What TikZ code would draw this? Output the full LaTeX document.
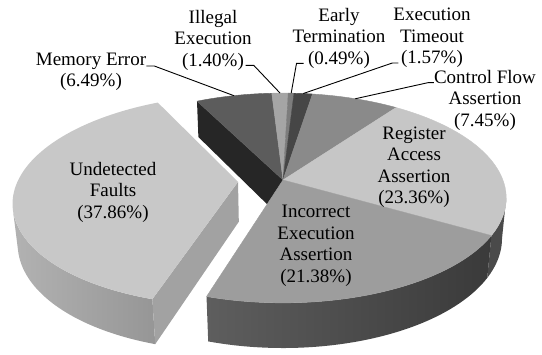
\documentclass[tikz,border=0pt]{standalone}
\usepackage{fontspec}
\setmainfont{Liberation Serif}
\definecolor{mem_top}{RGB}{92,92,92}
\definecolor{mem_cut}{RGB}{38,38,38}
\definecolor{ill_top}{RGB}{165,165,165}
\definecolor{early_top}{RGB}{125,125,125}
\definecolor{tmo_top}{RGB}{70,70,70}
\definecolor{cf_top}{RGB}{138,138,138}
\definecolor{reg_top}{RGB}{198,198,198}
\definecolor{reg_side}{RGB}{74,74,74}
\definecolor{inc_top}{RGB}{157,157,157}
\definecolor{inc_side_l}{RGB}{94,94,94}
\definecolor{inc_side_r}{RGB}{58,58,58}
\definecolor{ud_top}{RGB}{200,200,200}
\definecolor{ud_side_l}{RGB}{178,178,178}
\definecolor{ud_side_r}{RGB}{150,150,150}
\definecolor{ud_cut}{RGB}{162,162,162}

\begin{document}
\begin{tikzpicture}[x=1bp,y=-1bp,
  declare function={
    dep(\X,\Y,\Z)=5.17+0.886*\Y-0.463*\Z;
    pjx(\X,\Y,\Z)=283+1137*\X/dep(\X,\Y,\Z);
    pjy(\X,\Y,\Z)=180-1137*(0.463*\Y+0.886*\Z)/dep(\X,\Y,\Z);
    rimx(\t,\Z)=pjx(cos(\t),sin(\t),\Z);
    rimy(\t,\Z)=pjy(cos(\t),sin(\t),\Z);
    udx(\t,\Z)=pjx(cos(\t)-0.204,sin(\t)-0.018,\Z);
    udy(\t,\Z)=pjy(cos(\t)-0.204,sin(\t)-0.018,\Z);
  }]
    \tikzstyle{lbl}=[align=center,inner sep=0pt,text=black,font=\fontsize{19bp}{21.5bp}\selectfont]
    \tikzstyle{lead}=[draw=black,line width=0.9bp]
    \tikzstyle{slice}=[line width=0.4bp,line join=round]
    \useasboundingbox (0,0) rectangle (542,354);

    \coordinate (O)  at ({pjx(0,0,0)},{pjy(0,0,0)});
    \coordinate (Ob) at ({pjx(0,0,-0.208)},{pjy(0,0,-0.208)});
    \coordinate (U)  at ({pjx(-0.204,-0.018,0)},{pjy(-0.204,-0.018,0)});
    \coordinate (Ub) at ({pjx(-0.204,-0.018,-0.208)},{pjy(-0.204,-0.018,-0.208)});

    % main pie: side walls
    \fill[reg_side] plot[domain=-9.8:-29.936,samples=20,variable=\t] ({rimx(\t,0)},{rimy(\t,0)})
      -- plot[domain=-29.936:-9.8,samples=20,variable=\t] ({rimx(\t,-0.208)},{rimy(\t,-0.208)}) -- cycle;
    \shade[left color=inc_side_l,right color=inc_side_r]
      plot[domain=-29.936:-106.904,samples=50,variable=\t] ({rimx(\t,0)},{rimy(\t,0)})
      -- plot[domain=-106.904:-29.936,samples=50,variable=\t] ({rimx(\t,-0.208)},{rimy(\t,-0.208)}) -- cycle;
    % cut face left open by the exploded slice
    \fill[mem_cut] (O) -- ({rimx(116.8,0)},{rimy(116.8,0)}) -- ({rimx(116.8,-0.208)},{rimy(116.8,-0.208)}) -- (Ob) -- cycle;

    % main pie: top faces
    \foreach \a/\b/\c in {116.8/93.436/mem_top, 93.436/88.396/ill_top, 88.396/86.632/early_top,
        86.632/80.98/tmo_top, 80.98/54.16/cf_top, 54.16/-29.936/reg_top, -29.936/-106.904/inc_top}
      \filldraw[slice,fill=\c,draw=\c] (O) -- plot[domain=\a:\b,samples=40,variable=\t] ({rimx(\t,0)},{rimy(\t,0)}) -- cycle;

    % exploded slice
    \shade[left color=ud_side_l,right color=ud_side_r]
      plot[domain=-164.8:-106.904,samples=40,variable=\t] ({udx(\t,0)},{udy(\t,0)})
      -- plot[domain=-106.904:-164.8,samples=40,variable=\t] ({udx(\t,-0.208)},{udy(\t,-0.208)}) -- cycle;
    \fill[ud_cut] (U) -- ({udx(-106.904,0)},{udy(-106.904,0)}) -- ({udx(-106.904,-0.208)},{udy(-106.904,-0.208)}) -- (Ub) -- cycle;
    \fill[ud_top] (U) -- plot[domain=-106.904:-243.2,samples=80,variable=\t] ({udx(\t,0)},{udy(\t,0)}) -- cycle;

    % leader ends on the rim
    \coordinate (mem_rim)   at ({rimx(105.1,0)},{rimy(105.1,0)});
    \coordinate (ill_rim)   at ({rimx(90.9,0)},{rimy(90.9,0)});
    \coordinate (early_rim) at ({rimx(87.5,0)},{rimy(87.5,0)});
    \coordinate (tmo_rim)   at ({rimx(83.8,0)},{rimy(83.8,0)});
    \coordinate (cf_rim)    at ({rimx(67.6,0)},{rimy(67.6,0)});

    \node[lbl] (mem)   at (91,72)   {Memory Error\\(6.49\%)};
    \node[lbl] (ill)   at (213,40)  {Illegal\\Execution\\(1.40\%)};
    \node[lbl] (early) at (339,38)  {Early\\Termination\\(0.49\%)};
    \node[lbl] (tmo)   at (432,38)  {Execution\\Timeout\\(1.57\%)};
    \node[lbl] (cf)    at (485,100) {Control Flow\\Assertion\\(7.45\%)};
    \node[lbl] (reg)   at (414,167) {Register\\Access\\Assertion\\(23.36\%)};
    \node[lbl] (inc)   at (316,246) {Incorrect\\Execution\\Assertion\\(21.38\%)};
    \node[lbl] (ud)    at (113,192) {Undetected\\Faults\\(37.86\%)};

    \draw[lead] ([yshift=6bp]mem.east) -- ++(8,0) -- (mem_rim);
    \draw[lead] ([xshift=-6bp,yshift=5bp]ill.south east) -- ++(8,0) -- (ill_rim);
    \draw[lead] ([xshift=11bp,yshift=5bp]early.south west) -- ++(-7,0) -- (early_rim);
    \draw[lead] ([xshift=5bp,yshift=5bp]tmo.south west) -- ++(-6,0) -- (tmo_rim);
    \draw[lead] ([yshift=-13bp]cf.north west) -- ++(-6,0) -- (cf_rim);
\end{tikzpicture}
\end{document}
